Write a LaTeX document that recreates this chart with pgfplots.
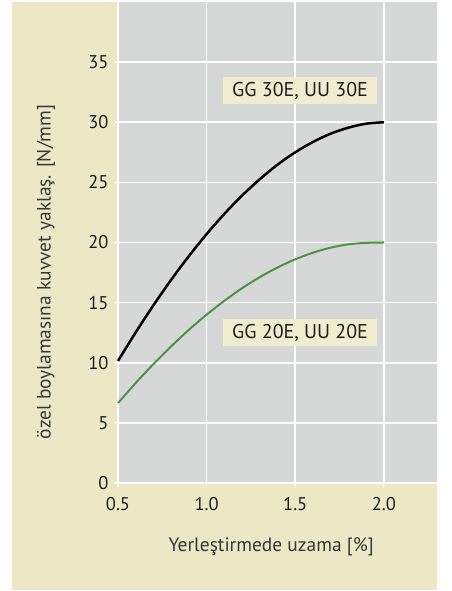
\documentclass[border=0pt]{standalone}
\usepackage{pgfplots}
\pgfplotsset{compat=1.18}
\usepackage{fontspec}
\setmainfont{PT Sans}
\definecolor{bgbeige}{RGB}{236,231,196}
\definecolor{boxbeige}{RGB}{240,236,207}
\definecolor{plotgrey}{RGB}{214,215,215}
\definecolor{curvegreen}{RGB}{78,146,72}
\definecolor{txt}{RGB}{30,30,30}
\definecolor{lbl}{RGB}{55,55,55}
\begin{document}
\begin{tikzpicture}[x=1bp,y=1bp]
  \useasboundingbox (0,0) rectangle (452,591);
  \fill[bgbeige] (12,1) rectangle (437,589);
  \begin{axis}[
    at={(118bp,108bp)}, anchor=south west,
    scale only axis,
    width=319bp, height=481bp,
    xmin=0.5, xmax=2.3,
    ymin=0, ymax=40,
    xtick={0.5,1.0,1.5,2.0},
    ytick={0,5,...,35},
    axis background/.style={fill=plotgrey},
    axis lines*=left,
    axis line style={white, line width=1.6bp},
    grid=major,
    grid style={white, line width=1.6bp},
    tick style={white, line width=1.2bp},
    tick align=outside,
    major tick length=4bp,
    ticklabel style={font=\fontsize{18.5}{22}\selectfont, text=txt},
    xticklabel style={yshift=-7bp, /pgf/number format/.cd, fixed, fixed zerofill, precision=1},
    yticklabel style={xshift=-2bp},
    /pgf/number format/assume math mode=true,
    xlabel={Yerleştirmede uzama [\%]},
    ylabel={özel boylamasına kuvvet yaklaş. [N/mm]},
    label style={font=\fontsize{19.5}{23}\selectfont, text=lbl},
    xlabel style={at={(axis description cs:0.48,0)}, anchor=center, yshift=-64bp},
    ylabel style={at={(axis description cs:0,0.439)}, anchor=center, yshift=72bp},
    clip=false,
  ]
  \addplot[black, line width=2.5bp, smooth] coordinates {
    (0.5,10.15)(0.6,12.53)(0.7,14.78)(0.8,16.90)(0.9,18.87)(1.0,20.70)
    (1.1,22.38)(1.2,23.90)(1.3,25.26)(1.4,26.47)(1.5,27.50)(1.6,28.36)
    (1.7,29.05)(1.8,29.55)(1.9,29.88)(2.0,30.0)
  };
  \addplot[curvegreen, line width=2bp, smooth] coordinates {
    (0.5,6.65)(0.6,8.32)(0.7,9.89)(0.8,11.36)(0.9,12.74)(1.0,14.0)
    (1.1,15.15)(1.2,16.20)(1.3,17.12)(1.4,17.92)(1.5,18.6)(1.6,19.15)
    (1.7,19.57)(1.8,19.85)(1.9,19.97)(2.0,20.0)
  };
  \node[fill=boxbeige, text=txt, minimum width=154bp, minimum height=27bp,
        inner sep=0pt, font=\fontsize{20}{24}\selectfont]
    at (axis cs:1.527,32.6) {GG 30E, UU 30E};
  \node[fill=boxbeige, text=txt, minimum width=154bp, minimum height=27bp,
        inner sep=0pt, font=\fontsize{20}{24}\selectfont]
    at (axis cs:1.527,12.5) {GG 20E, UU 20E};
  \end{axis}
\end{tikzpicture}
\end{document}
